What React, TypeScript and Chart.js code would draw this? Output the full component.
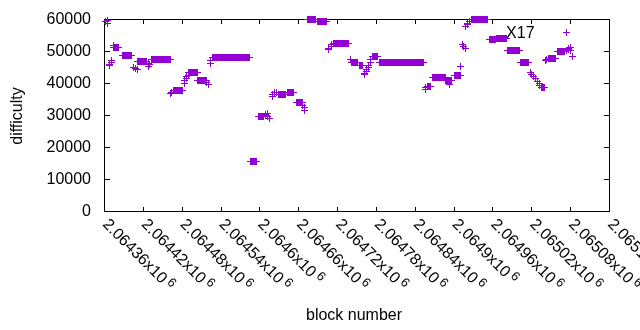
import React, { useEffect, useRef } from "react";
import { Chart, registerables } from "chart.js";

Chart.register(...registerables);

// Runs of consecutive blocks sharing one difficulty value (start block, end block, difficulty)
const runStart = [
  2064363, 2064365, 2064366, 2064368, 2064369, 2064371, 2064372, 2064374, 2064375, 2064388,
  2064405, 2064406, 2064408, 2064411, 2064412, 2064428, 2064429, 2064431, 2064434, 2064463,
  2064465, 2064467, 2064484, 2064485, 2064487, 2064488, 2064490, 2064491, 2064505, 2064519,
  2064521, 2064524, 2064525, 2064527, 2064587, 2064598, 2064609, 2064610, 2064612, 2064613,
  2064616, 2064620, 2064621, 2064624, 2064627, 2064630, 2064644, 2064657, 2064667, 2064669,
  2064670, 2064675, 2064689, 2064706, 2064707, 2064711, 2064712, 2064715, 2064741, 2064743,
  2064754, 2064762, 2064763, 2064765, 2064766, 2064768, 2064769, 2064771, 2064772, 2064774,
  2064786, 2064856, 2064857, 2064859, 2064868, 2064888, 2064893, 2064894, 2064902, 2064911,
  2064913, 2064916, 2064918, 2064919, 2064921, 2064922, 2064924, 2064927, 2064955, 2064967,
  2064983, 2065004, 2065018, 2065020, 2065023, 2065026, 2065029, 2065032, 2065033, 2065035,
  2065042, 2065044, 2065046, 2065060, 2065074, 2065075, 2065077, 2065078, 2065080, 2065081,
  2065084,
];
const runEnd = [
  2064363, 2064365, 2064366, 2064368, 2064369, 2064371, 2064372, 2064374, 2064383, 2064403,
  2064405, 2064406, 2064409, 2064411, 2064426, 2064428, 2064429, 2064431, 2064462, 2064463,
  2064465, 2064482, 2064484, 2064485, 2064487, 2064488, 2064490, 2064504, 2064518, 2064519,
  2064521, 2064524, 2064525, 2064584, 2064595, 2064607, 2064609, 2064610, 2064612, 2064613,
  2064616, 2064620, 2064621, 2064624, 2064627, 2064641, 2064653, 2064666, 2064667, 2064669,
  2064670, 2064686, 2064704, 2064706, 2064707, 2064711, 2064712, 2064738, 2064741, 2064751,
  2064760, 2064762, 2064763, 2064765, 2064766, 2064768, 2064769, 2064771, 2064772, 2064783,
  2064854, 2064856, 2064857, 2064865, 2064887, 2064892, 2064893, 2064897, 2064910, 2064911,
  2064913, 2064916, 2064918, 2064919, 2064921, 2064922, 2064924, 2064952, 2064965, 2064981,
  2065001, 2065016, 2065018, 2065020, 2065023, 2065026, 2065029, 2065032, 2065033, 2065040,
  2065042, 2065044, 2065058, 2065072, 2065074, 2065075, 2065077, 2065078, 2065080, 2065081,
  2065084,
];
const runDifficulty = [
  59300, 59600, 58700, 45500, 45900, 46500, 47000, 51800, 51100, 48700,
  45000, 44700, 44400, 44100, 46700, 45300, 46000, 45800, 47400, 36600,
  36900, 37700, 40000, 40700, 41300, 41900, 42400, 43300, 40800, 40200,
  39500, 46000, 47100, 48000, 15500, 29500, 30200, 29700, 30400, 29600,
  28800, 35900, 36400, 36900, 37100, 36400, 37000, 33900, 32900, 32300,
  31500, 59700, 59250, 50500, 50900, 51500, 52000, 52400, 47500, 46500,
  45400, 42600, 43000, 43500, 44200, 44800, 45600, 46500, 47400, 48300,
  46400, 38000, 38500, 38900, 41800, 40900, 39500, 40900, 42400, 45300,
  52000, 51500, 50900, 57700, 58300, 58700, 59200, 59700, 53600, 54000,
  50200, 46400, 43300, 42800, 42000, 41300, 40500, 39800, 39200, 38500,
  47100, 47400, 47600, 49800, 50100, 55900, 50400, 50800, 51200, 50300,
  48400,
];

const xMin = 2064360;
const xMax = 2065140;
const yMin = 0;
const yMax = 60000;

const xTickValues = [
  2064360, 2064420, 2064480, 2064540, 2064600, 2064660, 2064720,
  2064780, 2064840, 2064900, 2064960, 2065020, 2065080, 2065140,
];
const xTickMantissas = [
  "2.06436", "2.06442", "2.06448", "2.06454", "2.0646", "2.06466", "2.06472",
  "2.06478", "2.06484", "2.0649", "2.06496", "2.06502", "2.06508", "2.06514",
];
const xTickExponent = "6";
const yTickValues = [0, 10000, 20000, 30000, 40000, 50000, 60000];
const yTickLabels = ["0", "10000", "20000", "30000", "40000", "50000", "60000"];

const xTitle = "block number";
const yTitle = "difficulty";
const noteText = "X17";
const noteBlock = 2064981;
const noteDifficulty = 54150;

const POINT_COLOR = "#9400d3";
const FONT_FAMILY = "'Liberation Sans', Arial, sans-serif";

function makePlusMarker(): HTMLCanvasElement {
  const c = document.createElement("canvas");
  c.width = 7;
  c.height = 7;
  const g = c.getContext("2d") as CanvasRenderingContext2D;
  g.fillStyle = POINT_COLOR;
  g.fillRect(0, 3, 7, 1);
  g.fillRect(3, 0, 1, 7);
  return c;
}

const gnuplotFrame = {
  id: "gnuplotFrame",
  beforeDatasetsDraw(chart: any) {
    const ctx = chart.ctx;
    const { left, right, top, bottom } = chart.chartArea;
    const xs = chart.scales.x;
    const ys = chart.scales.y;
    const L = Math.round(left), R = Math.round(right), T = Math.round(top), B = Math.round(bottom);
    ctx.save();
    ctx.fillStyle = "#000";
    // border
    ctx.fillRect(L, T, R - L + 1, 1);
    ctx.fillRect(L, B, R - L + 1, 1);
    ctx.fillRect(L, T, 1, B - T + 1);
    ctx.fillRect(R, T, 1, B - T + 1);
    // x ticks (bottom + mirrored top)
    xTickValues.forEach((v) => {
      const px = Math.round(xs.getPixelForValue(v));
      ctx.fillRect(px, B - 4, 1, 4);
      ctx.fillRect(px, T + 1, 1, 4);
    });
    // y ticks (left + mirrored right)
    yTickValues.forEach((v) => {
      const py = Math.round(ys.getPixelForValue(v));
      ctx.fillRect(L + 1, py, 5, 1);
      ctx.fillRect(R - 5, py, 5, 1);
    });
    // y tick labels
    ctx.font = `16px ${FONT_FAMILY}`;
    ctx.textAlign = "right";
    ctx.textBaseline = "alphabetic";
    yTickValues.forEach((v, i) => {
      const py = ys.getPixelForValue(v);
      ctx.fillText(yTickLabels[i], L - 13, py + 5);
    });
    // x tick labels, rotated by -45 (gnuplot style)
    xTickValues.forEach((v, i) => {
      const px = xs.getPixelForValue(v);
      ctx.save();
      ctx.translate(px + 1, B + 11);
      ctx.rotate(Math.PI / 4);
      ctx.textAlign = "left";
      ctx.textBaseline = "middle";
      ctx.font = `16px ${FONT_FAMILY}`;
      const base = xTickMantissas[i] + "x10";
      ctx.fillText(base, 0, 0);
      const w = ctx.measureText(base).width;
      ctx.font = `12.8px ${FONT_FAMILY}`;
      ctx.fillText(xTickExponent, w + 3, -4);
      ctx.restore();
    });
    // axis titles
    ctx.font = `16px ${FONT_FAMILY}`;
    ctx.textAlign = "center";
    ctx.textBaseline = "alphabetic";
    ctx.fillText(xTitle, 354, 320);
    ctx.save();
    ctx.translate(21.5, 116);
    ctx.rotate(-Math.PI / 2);
    ctx.fillText(yTitle, 0, 0);
    ctx.restore();
    // label
    ctx.textAlign = "left";
    ctx.fillText(noteText, xs.getPixelForValue(noteBlock), ys.getPixelForValue(noteDifficulty));
    ctx.restore();
    // crisp, pixel-snapped point markers like gnuplot's png output
    ctx.imageSmoothingEnabled = false;
  },
};

export default function App() {
  const canvasRef = useRef<HTMLCanvasElement | null>(null);

  useEffect(() => {
    const points: { x: number; y: number }[] = [];
    runStart.forEach((s, i) => {
      for (let b = s; b <= runEnd[i]; b++) points.push({ x: b, y: runDifficulty[i] });
    });
    const marker = makePlusMarker();
    const chart = new Chart(canvasRef.current as HTMLCanvasElement, {
      type: "scatter",
      data: {
        datasets: [
          {
            label: "difficulty",
            data: points,
            pointStyle: marker as any,
            pointRadius: 3.5,
            pointBorderWidth: 1,
            borderColor: POINT_COLOR,
            backgroundColor: POINT_COLOR,
            clip: false as any,
          },
        ],
      },
      options: {
        responsive: false,
        animation: false,
        layout: { padding: { left: 104, top: 19, right: 31, bottom: 119 } },
        plugins: { legend: { display: false }, tooltip: { enabled: false } },
        events: [],
        scales: {
          x: { type: "linear", min: xMin, max: xMax, display: false },
          y: { type: "linear", min: yMin, max: yMax, display: false },
        },
      },
      plugins: [gnuplotFrame],
    });
    return () => chart.destroy();
  }, []);

  return (
    <div style={{ position: "fixed", left: 0, top: 0, width: 640, height: 330, background: "#fff" }}>
      <canvas ref={canvasRef} width={640} height={330} style={{ width: 640, height: 330 }} />
    </div>
  );
}
